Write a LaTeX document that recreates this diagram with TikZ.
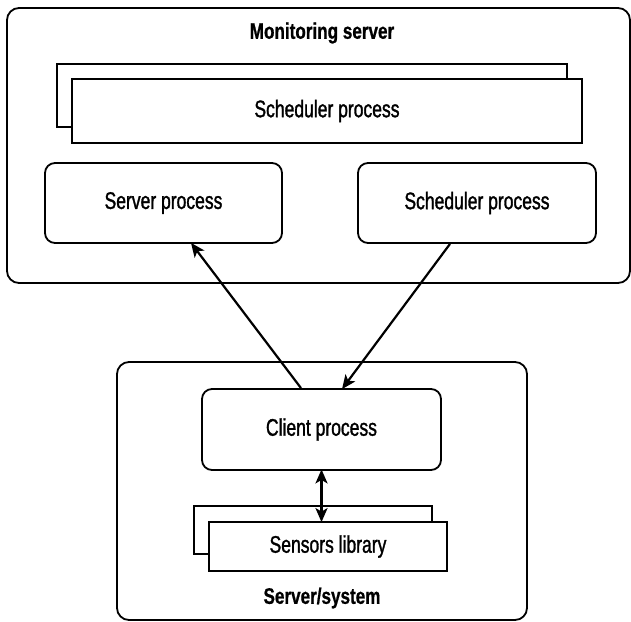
\documentclass[tikz,border=0pt]{standalone}
\usepackage{fontspec}
\setmainfont{Liberation Sans}[FakeStretch=0.73,FakeBold=1.3]
\newfontfamily\titlefont{Liberation Sans}[FakeStretch=0.76,FakeBold=0.8]
\usetikzlibrary{arrows.meta,calc}
\begin{document}
\begin{tikzpicture}[x=1pt,y=-1pt,
  every node/.style={font=\fontsize{24}{28}\selectfont},
  procbox/.style={draw,line width=1.8pt,rounded corners=10pt,fill=white,inner sep=0pt},
  flatbox/.style={draw,line width=1.8pt,fill=white,inner sep=0pt},
  title/.style={font=\titlefont\bfseries\fontsize{22.5}{26}\selectfont},
  tip/.tip={Stealth[length=14pt,width=12pt,inset=3.5pt]},
  arr/.style={line width=2.2pt,-tip},
  darr/.style={line width=2.2pt,tip-tip}
]
\useasboundingbox (0,0) rectangle (631,621);
% outer boxes
\draw[line width=1.8pt,rounded corners=12pt] (7,8) rectangle (630,283);
\draw[line width=1.8pt,rounded corners=12pt] (117,362) rectangle (527,620);
\node[title] (mon) at (322,33) {Monitoring server};
\node[title] (sys) at (322,598) {Server/system};
% scheduler stacked
\node[flatbox,minimum width=510pt,minimum height=63pt] (schedback) at (312,95.5) {};
\node[flatbox,minimum width=510pt,minimum height=64pt] (sched) at (327,111) {Scheduler process};
% process boxes
\node[procbox,minimum width=237pt,minimum height=80pt] (server) at (163.5,203) {Server process};
\node[procbox,minimum width=238pt,minimum height=80pt] (sched2) at (477,203) {Scheduler process};
\node[procbox,minimum width=239pt,minimum height=81pt] (client) at (321.5,429.5) {Client process};
% sensors stacked
\node[flatbox,minimum width=238pt,minimum height=48pt] (sensback) at (313,530) {};
\node[flatbox,minimum width=238pt,minimum height=49pt] (sens) at (328,546.5) {Sensors library};
% connectors
\draw[arr] ([xshift=-20.5pt]client.north) -- ([xshift=27.5pt,yshift=1pt]server.south);
\draw[arr] ([xshift=-27pt]sched2.south) -- ([xshift=20.5pt,yshift=-1pt]client.north);
\draw[darr] ([yshift=1.5pt]client.south) -- ([yshift=-1pt]client.south |- sens.north);
\end{tikzpicture}
\end{document}
